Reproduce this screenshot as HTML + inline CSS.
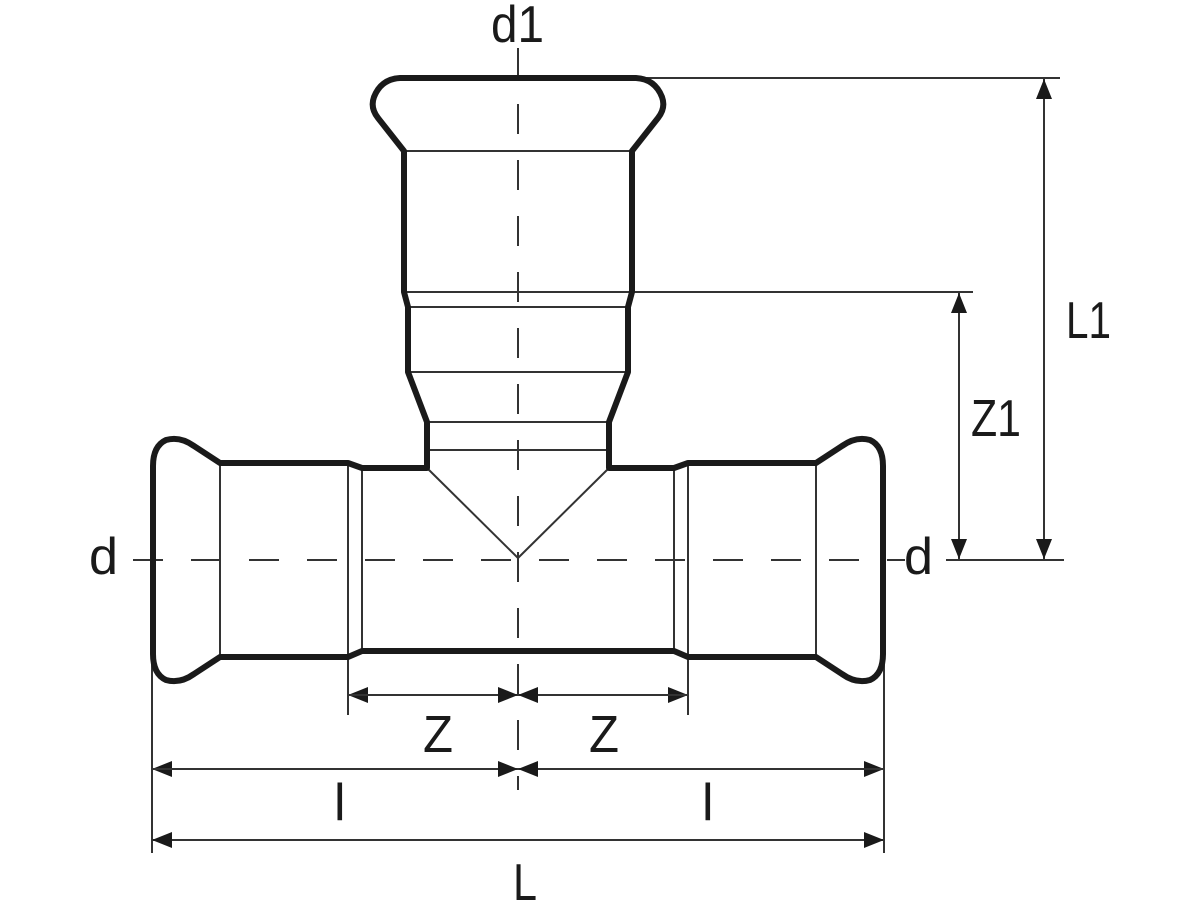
<!DOCTYPE html>
<html><head><meta charset="utf-8"><style>
html,body{margin:0;padding:0;background:#fff;}
svg{display:block;}
text{font-family:"Liberation Sans",sans-serif;font-size:52px;fill:#1a1a1a;}
</style></head><body>
<svg width="1200" height="900" viewBox="0 0 1200 900" xmlns="http://www.w3.org/2000/svg">
<defs>
<marker id="a" viewBox="0 0 20 16" refX="20" refY="8" markerWidth="20" markerHeight="16" markerUnits="userSpaceOnUse" orient="auto"><path d="M0,0 L20,8 L0,16 Z" fill="#1a1a1a"/></marker>
</defs>
<g stroke="#333" stroke-width="2" fill="none">
<line x1="133" y1="560" x2="905" y2="560" stroke-dasharray="30,28"/>
<line x1="518" y1="48" x2="518" y2="790" stroke-dasharray="30,26"/>
<line x1="220" y1="463" x2="220" y2="657"/>
<line x1="348" y1="463" x2="348" y2="715"/>
<line x1="362" y1="468" x2="362" y2="651"/>
<line x1="816" y1="463" x2="816" y2="657"/>
<line x1="688" y1="463" x2="688" y2="715"/>
<line x1="674" y1="468" x2="674" y2="651"/>
<line x1="404" y1="151" x2="632" y2="151"/>
<line x1="404" y1="292" x2="973" y2="292"/>
<line x1="408" y1="307" x2="628" y2="307"/>
<line x1="408" y1="372" x2="628" y2="372"/>
<line x1="427" y1="422" x2="609" y2="422"/>
<line x1="427" y1="450" x2="609" y2="450"/>
<line x1="427" y1="468" x2="518" y2="558"/>
<line x1="609" y1="468" x2="518" y2="558"/>
<line x1="640" y1="78" x2="1060" y2="78"/>
<line x1="946" y1="560" x2="1064" y2="560"/>
<line x1="152" y1="662" x2="152" y2="853"/>
<line x1="884" y1="662" x2="884" y2="853"/>
<line x1="518" y1="695" x2="348" y2="695" marker-end="url(#a)"/>
<line x1="348" y1="695" x2="518" y2="695" marker-end="url(#a)"/>
<line x1="518" y1="695" x2="688" y2="695" marker-end="url(#a)"/>
<line x1="688" y1="695" x2="518" y2="695" marker-end="url(#a)"/>
<line x1="518" y1="769" x2="152" y2="769" marker-end="url(#a)"/>
<line x1="152" y1="769" x2="518" y2="769" marker-end="url(#a)"/>
<line x1="518" y1="769" x2="884" y2="769" marker-end="url(#a)"/>
<line x1="884" y1="769" x2="518" y2="769" marker-end="url(#a)"/>
<line x1="500" y1="840" x2="152" y2="840" marker-end="url(#a)"/>
<line x1="500" y1="840" x2="884" y2="840" marker-end="url(#a)"/>
<line x1="1044" y1="320" x2="1044" y2="79" marker-end="url(#a)"/>
<line x1="1044" y1="320" x2="1044" y2="559" marker-end="url(#a)"/>
<line x1="959" y1="420" x2="959" y2="293" marker-end="url(#a)"/>
<line x1="959" y1="420" x2="959" y2="559" marker-end="url(#a)"/>
</g>
<path fill="none" stroke="#1a1a1a" stroke-width="6" stroke-linejoin="round"
d="M220,463 L194,446 Q180,436 166,440 Q153,446 153,466 L153,654 Q153,674 166,680 Q180,684 194,674 L220,657 L348,657 L362,651 L674,651 L688,657 L816,657 L842,674 Q856,684 870,680 Q883,674 883,654 L883,466 Q883,446 870,440 Q856,436 842,446 L816,463 L688,463 L674,468 L609,468 L609,422 L628,372 L628,307 L632,292 L632,151 L658,118 Q666,108 662,97 Q655,79 636,78 L400,78 Q381,79 374,97 Q370,108 378,118 L404,151 L404,292 L408,307 L408,372 L427,422 L427,468 L362,468 L348,463 Z"/>
<text x="491" y="42" textLength="53" lengthAdjust="spacingAndGlyphs">d1</text>
<text x="1066" y="338" textLength="45" lengthAdjust="spacingAndGlyphs">L1</text>
<text x="971" y="436" textLength="50" lengthAdjust="spacingAndGlyphs">Z1</text>
<text x="89" y="574" textLength="29" lengthAdjust="spacingAndGlyphs">d</text>
<text x="904" y="574" textLength="29" lengthAdjust="spacingAndGlyphs">d</text>
<text x="423" y="752" textLength="30" lengthAdjust="spacingAndGlyphs">Z</text>
<text x="589" y="752" textLength="30" lengthAdjust="spacingAndGlyphs">Z</text>
<text x="334" y="820">l</text>
<text x="702" y="820">l</text>
<text x="513" y="900" textLength="24" lengthAdjust="spacingAndGlyphs">L</text>
</svg>
</body></html>
